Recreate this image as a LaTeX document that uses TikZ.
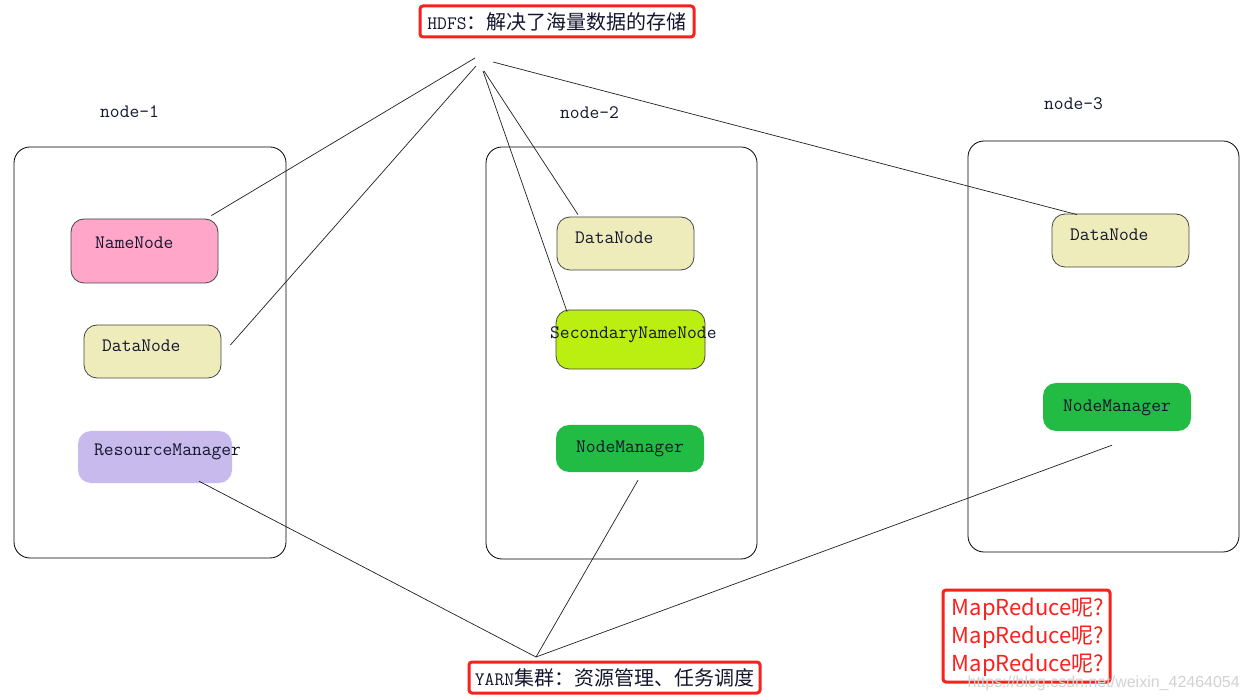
\documentclass[tikz,border=0pt]{standalone}
\usepackage{fontspec}
\newfontfamily\cjk{Noto Sans CJK SC}
\newfontfamily\wmsans{Liberation Sans}
\definecolor{ink}{RGB}{20,22,45}
\definecolor{myred}{RGB}{250,32,28}
\definecolor{pinkf}{RGB}{255,166,201}
\definecolor{khaki}{RGB}{238,236,187}
\definecolor{lav}{RGB}{200,186,236}
\definecolor{lime}{RGB}{187,238,17}
\definecolor{grn}{RGB}{34,187,68}
\tikzset{
  cont/.style={draw=black, line width=0.8pt, rounded corners=16pt, inner sep=0pt},
  nbox/.style={draw=gray!55!black, line width=0.8pt, rounded corners=13pt, inner sep=0pt},
  flat/.style={rounded corners=13pt, inner sep=0pt},
  txt/.style={anchor=base west, inner sep=0pt, font=\ttfamily\fontsize{19}{22}\selectfont, text=ink},
  redbox/.style={draw=myred, line width=3pt, rounded corners=3pt, fill=white, inner sep=0pt, font=\ttfamily\fontsize{19}{22}\selectfont, text=ink},
  conn/.style={draw=gray!25!black, line width=0.7pt}
}
\begin{document}
\begin{tikzpicture}[x=1pt,y=-1pt]
\useasboundingbox (0,0) rectangle (1248,700);
\fill[white] (0,0) rectangle (1248,700);

% containers
\node[cont, minimum width=272pt, minimum height=411pt] (c1) at (150,352.5) {};
\node[cont, minimum width=271pt, minimum height=412pt] (c2) at (621.5,353) {};
\node[cont, minimum width=271pt, minimum height=411pt] (c3) at (1103.5,346.5) {};
\node[txt] (l1) at (100,118) {node-1};
\node[txt] (l2) at (560,119) {node-2};
\node[txt] (l3) at (1044,110) {node-3};

% node-1
\node[nbox, fill=pinkf, minimum width=147pt, minimum height=64pt] (nn) at (144.5,251) {};
\node[txt] (nnt) at (95,249) {NameNode};
\node[nbox, fill=khaki, minimum width=137pt, minimum height=53pt] (dn1) at (152.5,351.5) {};
\node[txt] (dn1t) at (102,352) {DataNode};
\node[flat, fill=lav, minimum width=154pt, minimum height=52pt] (rm) at (155,457) {};
\node[txt] (rmt) at (94,456) {ResourceManager};

% node-2
\node[nbox, fill=khaki, minimum width=137pt, minimum height=53pt] (dn2) at (625.5,243.5) {};
\node[txt] (dn2t) at (575,244) {DataNode};
\node[nbox, fill=lime, minimum width=149pt, minimum height=59pt] (snn) at (630.5,339.5) {};
\node[txt] (snnt) at (550,339) {SecondaryNameNode};
\node[flat, fill=grn, minimum width=148pt, minimum height=47pt] (nm2) at (630,448.5) {};
\node[txt] (nm2t) at (576,453) {NodeManager};

% node-3
\node[nbox, fill=khaki, minimum width=137pt, minimum height=53pt] (dn3) at (1120.5,240.5) {};
\node[txt] (dn3t) at (1070,241) {DataNode};
\node[flat, fill=grn, minimum width=148pt, minimum height=48pt] (nm3) at (1117,407) {};
\node[txt] (nm3t) at (1063,412) {NodeManager};

% apex coordinates
\coordinate (ha) at (475,58);
\coordinate (hb) at (476,66);
\coordinate (hc) at (484,71);
\coordinate (hd) at (483,71);
\coordinate (he) at (493,62);
\coordinate (ya) at (536,657);

% HDFS connectors
\draw[conn] (ha) -- ([xshift=-7pt,yshift=3pt]nn.north east);
\draw[conn] (hb) -- ([xshift=9pt,yshift=6.5pt]dn1.east);
\draw[conn] (hc) -- ([xshift=-47.5pt,yshift=2pt]dn2.north);
\draw[conn] (hd) -- ([xshift=-63.5pt,yshift=-2pt]snn.north);
\draw[conn] (he) -- ([xshift=-43.5pt,yshift=-1pt]dn3.north);

% YARN connectors
\draw[conn] ([xshift=44pt,yshift=2pt]rm.south) -- (ya);
\draw[conn] ([xshift=8pt,yshift=-8pt]nm2.south) -- (ya);
\draw[conn] ([xshift=-5pt,yshift=-14pt]nm3.south) -- (ya);

% red label boxes
\node[redbox, minimum width=274pt, minimum height=31pt] (hdfs) at (557,21.5)
  {HDFS{\cjk\fontsize{20}{22}\selectfont ：解决了海量数据的存储}};
\node[redbox, minimum width=291pt, minimum height=31pt] (yarn) at (614.5,677.5)
  {YARN{\cjk\fontsize{20}{22}\selectfont 集群：资源管理、任务调度}};
\node[redbox, minimum width=167pt, minimum height=92pt] (mr) at (1026.5,636) {};
\node[align=left, inner sep=0pt, text=myred, font=\cjk\fontsize{22}{28}\selectfont] (mrt) at (1028,637)
  {MapReduce呢?\\MapReduce呢?\\MapReduce呢?};

% watermark
\node[anchor=east, inner sep=0pt, text=gray!35, font=\wmsans\fontsize{16}{18}\selectfont] (wm) at (1240,683)
  {https://blog.csdn.net/weixin\_42464054};
\end{tikzpicture}
\end{document}
